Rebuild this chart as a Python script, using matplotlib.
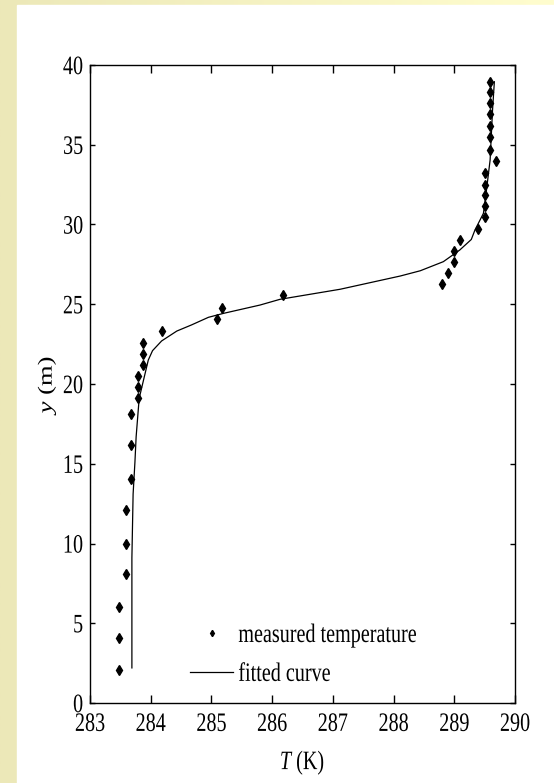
import numpy as np
import matplotlib
matplotlib.use("Agg")
import matplotlib.pyplot as plt
from matplotlib.patheffects import AbstractPathEffect
from matplotlib.transforms import Affine2D
from matplotlib.lines import Line2D
from matplotlib.patches import Rectangle

# ---------------- data ----------------
meas_T = [283.48, 283.48, 283.48, 283.60, 283.60, 283.60, 283.68, 283.68,
          283.68, 283.79, 283.79, 283.79, 283.88, 283.88, 283.88, 284.18,
          285.09, 285.18, 286.18, 288.79, 288.90, 288.99, 288.99, 289.09,
          289.39, 289.50, 289.50, 289.50, 289.50, 289.50, 289.69, 289.58,
          289.58, 289.58, 289.58, 289.58, 289.58, 289.58]
meas_y = [2.1, 4.05, 6.05, 8.1, 10.0, 12.1, 14.05, 16.15,
          18.1, 19.1, 19.8, 20.5, 21.2, 21.9, 22.6, 23.3,
          24.05, 24.75, 25.6, 26.25, 26.95, 27.65, 28.35, 29.05,
          29.7, 30.45, 31.15, 31.85, 32.5, 33.2, 34.0, 34.7,
          35.5, 36.2, 36.9, 37.6, 38.3, 38.95]

fit_T = [283.69, 283.69, 283.71, 283.74, 283.76, 283.81, 283.87, 283.96,
         284.03, 284.18, 284.43, 284.67, 284.95, 285.20, 285.80, 286.13,
         287.12, 288.11, 288.44, 288.82, 289.09, 289.28, 289.34, 289.48,
         289.53, 289.59, 289.63, 289.66]
fit_y = [2.2, 9.1, 13.1, 15.1, 16.7, 19.1, 20.06, 21.5,
         22.09, 22.7, 23.32, 23.7, 24.18, 24.43, 24.95, 25.31,
         25.94, 26.77, 27.1, 27.67, 28.4, 29.06, 29.65, 30.7,
         32.16, 34.04, 37.17, 38.95]

x_ticks = [283, 284, 285, 286, 287, 288, 289, 290]
y_ticks = [0, 5, 10, 15, 20, 25, 30, 35, 40]
legend_labels = ["measured temperature", "fitted curve"]


# vertical stretch of glyphs (the reference is stretched vertically)
class VStretch(AbstractPathEffect):
    def __init__(self, s):
        super().__init__()
        self.s = s

    def draw_path(self, renderer, gc, tpath, affine, rgbFace=None):
        ext = tpath.get_extents(affine)
        cy = 0.5 * (ext.y0 + ext.y1)
        t = affine + Affine2D().translate(0, -cy).scale(1, self.s).translate(0, cy)
        renderer.draw_path(gc, tpath, t, rgbFace)


plt.rcParams['font.family'] = ['Liberation Serif', 'DejaVu Serif']
plt.rcParams['mathtext.fontset'] = 'custom'
plt.rcParams['mathtext.rm'] = 'Liberation Serif'
plt.rcParams['mathtext.it'] = 'Liberation Serif:italic'

W, H = 554, 783
FS = 14.5
fig = plt.figure(figsize=(W / 100, H / 100), dpi=100)

# background: yellow gradient with white panel
bg = fig.add_axes([0, 0, 1, 1], zorder=-10)
grad = np.linspace(0, 1, 256)[None, :, None]
c0 = np.array([236, 232, 184]) / 255
c1 = np.array([255, 253, 206]) / 255
img = c0 + (c1 - c0) * grad
bg.imshow(np.repeat(img, 2, axis=0), aspect='auto', extent=[0, 1, 0, 1])
bg.add_patch(Rectangle((17 / W, 0), 1 - 17 / W, 1 - 5 / H, color='white'))
bg.set_xlim(0, 1)
bg.set_ylim(0, 1)
bg.axis('off')

left, right, top, bottom = 90, 515, 65, 703
ax = fig.add_axes([left / W, 1 - bottom / H, (right - left) / W, (bottom - top) / H])

ax.plot(fit_T, fit_y, color='black', lw=0.9)
ax.plot(meas_T, meas_y, linestyle='none', marker='d', markersize=4.8,
        color='black')

ax.set_xlim(283, 290)
ax.set_ylim(0, 40)
ax.set_xticks(x_ticks)
ax.set_yticks(y_ticks)
ax.tick_params(direction='in', top=True, right=True, labelsize=FS, width=1.0)
ax.tick_params(axis='x', length=6, pad=8.5)
ax.tick_params(axis='y', length=3.6, pad=5)
for sp in ax.spines.values():
    sp.set_linewidth(1.0)

ax.set_xlabel(r'$\mathit{T}$ (K)', fontsize=FS, labelpad=12.5)
ax.set_ylabel(r'$\mathit{y}$ (m)', fontsize=FS, labelpad=3)

handles = [Line2D([], [], linestyle='none', marker='d', markersize=3.2, color='black'),
           Line2D([], [], color='black', lw=0.9)]
leg = ax.legend(handles, legend_labels, loc='center left',
                bbox_to_anchor=(190 / W, 1 - 655 / H), bbox_transform=fig.transFigure,
                frameon=False, fontsize=FS, handlelength=2.15, handletextpad=0.25,
                labelspacing=0.95, borderpad=0, borderaxespad=0)

fig.canvas.draw()
pe = [VStretch(1.32)]
texts = list(ax.get_xticklabels()) + list(ax.get_yticklabels()) + \
    [ax.xaxis.label, ax.yaxis.label] + list(leg.get_texts())
for t in texts:
    t.set_path_effects(pe)

fig.savefig('out.png', dpi=100)
